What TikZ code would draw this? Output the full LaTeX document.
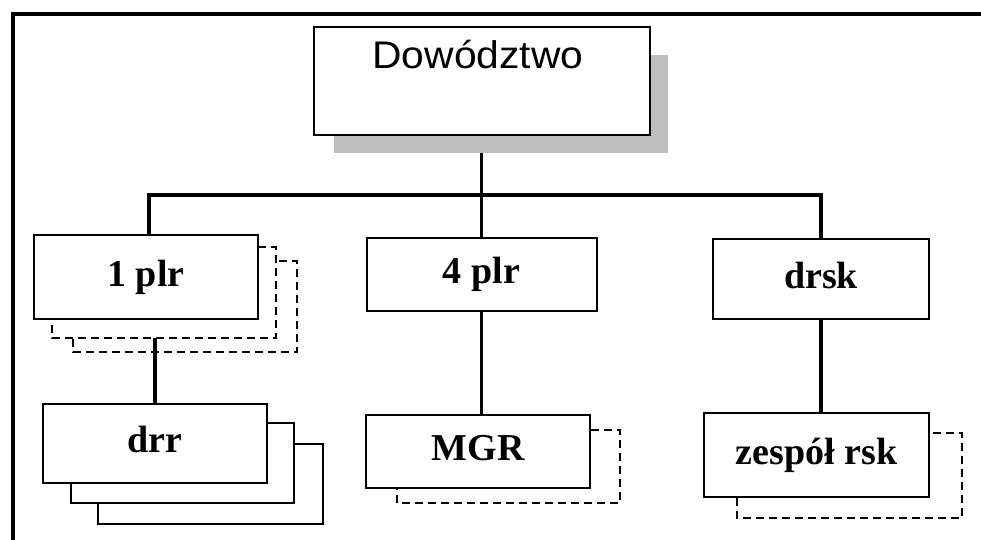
\documentclass[tikz,border=0pt]{standalone}
\usepackage{fontspec}
\setmainfont{Liberation Serif}
\newfontfamily\headfont[FakeStretch=1.06]{Liberation Sans}
\pgfdeclarelayer{back}
\pgfsetlayers{back,main}
\tikzset{
  unitbox/.style={draw=black, line width=2pt, fill=white, inner sep=0pt,
    text height=26pt, text depth=8pt,
    font=\bfseries\fontsize{38}{42}\selectfont},
  ghost/.style={draw=black, line width=2pt, fill=white, dash pattern=on 8pt off 5pt},
  stackbox/.style={draw=black, line width=2pt, fill=white},
  link/.style={draw=black, line width=3.5pt},
  frame/.style={draw=black, line width=4pt},
  headshade/.style={fill=gray!50}
}
\begin{document}
\begin{tikzpicture}[x=1pt,y=-1pt]
\useasboundingbox (0,0) rectangle (981,539);
% outer frame, running off the right and bottom edges
\draw[frame] (1010,14) -- (12.5,14) -- (12.5,560);

% headquarters box with its grey shadow
\fill[headshade] (334,55) rectangle (668,153);
\node[unitbox, minimum width=336pt, minimum height=108pt] (dow) at (482,81) {};
\node[anchor=base, inner sep=0pt, font=\headfont\fontsize{38.5}{42}\selectfont] (dowlbl) at (478,68) {Dowództwo};

% 1 plr with two dashed copies behind it
\draw[ghost] (73,261) rectangle (297,352);
\draw[ghost] (52,247) rectangle (276,338);
\node[unitbox, minimum width=224pt, minimum height=84pt] (p1) at (146,277) {1 plr};
\coordinate (p1foot) at (155,338);

% drr with two solid copies behind it
\draw[stackbox] (98,444) rectangle (323,524);
\draw[stackbox] (71,423) rectangle (294,503);
\node[unitbox, minimum width=224pt, minimum height=79pt] (drr) at (155,443.5) {drr};

% 4 plr and MGR
\node[unitbox, minimum width=230pt, minimum height=73pt] (p4) at (481.5,274.5) {4 plr};
\draw[ghost] (397,430) rectangle (620,503);
\node[unitbox, minimum width=224pt, minimum height=73pt] (mgr) at (478,451.5) {MGR};

% drsk and zespół rsk
\node[unitbox, minimum width=216pt, minimum height=80pt] (drsk) at (821,279) {drsk};
\draw[ghost] (737,433) rectangle (962,518);
\node[unitbox, minimum width=225pt, minimum height=84pt] (zes) at (816.5,455) {zespół rsk};

% connectors
\coordinate (bus) at (481.5,195);
\begin{pgfonlayer}{back}
  \draw[link] (dow.south -| bus) -- (bus);
  \draw[link] ([xshift=3pt]p1.north) |- (bus) -| (drsk.north);
  \draw[link] (bus) -- (p4.north);
  \draw[link] (p4.south) -- (p4.south |- mgr.north);
  \draw[link] (drsk.south) -- (drsk.south |- zes.north);
\end{pgfonlayer}
\draw[link] (p1foot) -- (p1foot |- drr.north);
\end{tikzpicture}
\end{document}
